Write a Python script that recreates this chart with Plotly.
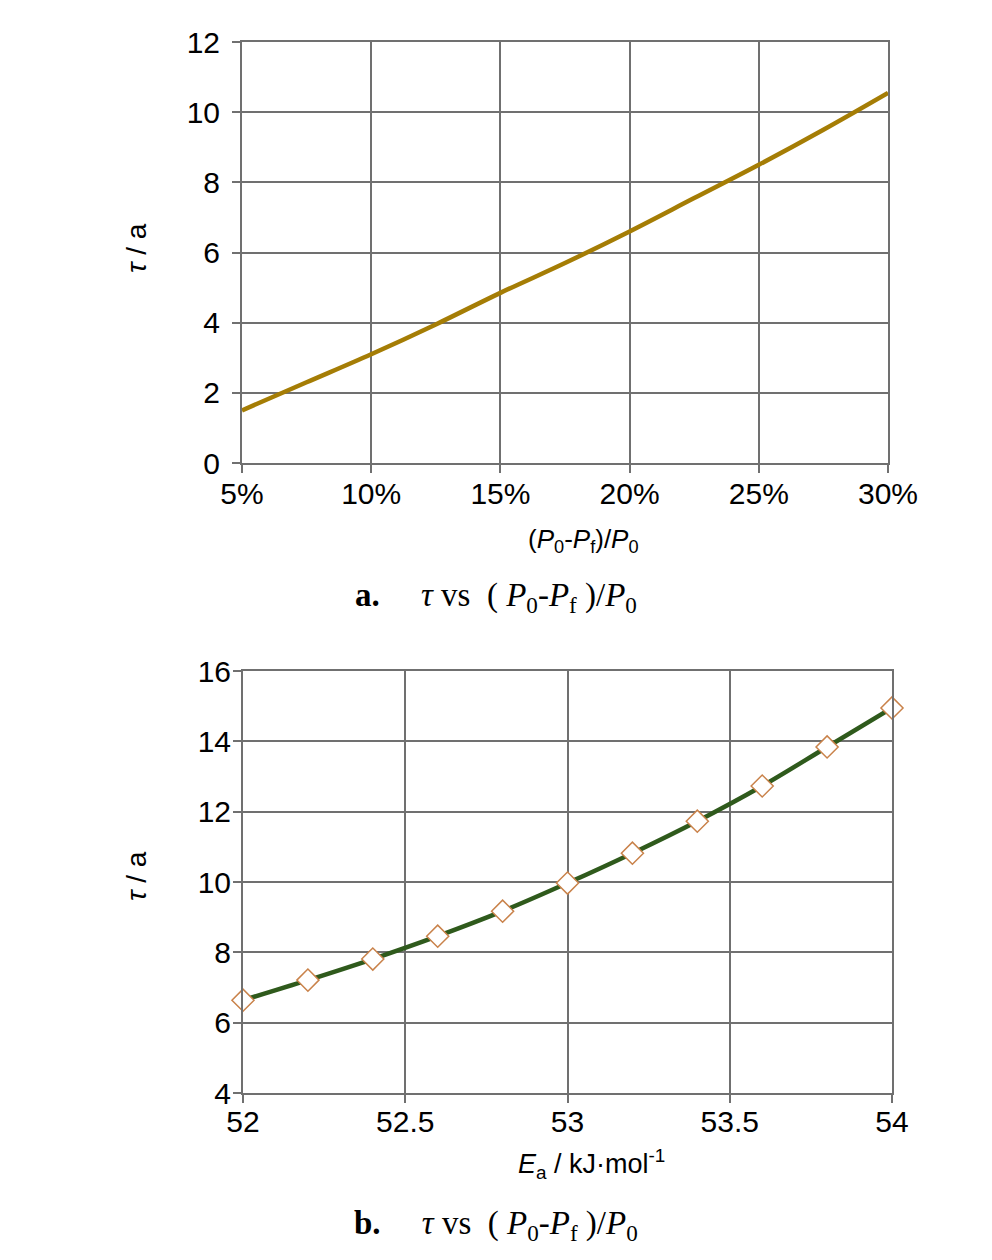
import plotly.graph_objects as go

# ---- data ----
ratio_a = [0.05, 0.075, 0.10, 0.125, 0.15, 0.175, 0.20, 0.225, 0.25, 0.275, 0.30]
tau_a = [1.5, 2.3, 3.1, 3.95, 4.85, 5.7, 6.6, 7.55, 8.5, 9.5, 10.55]

ea_b = [52.0, 52.2, 52.4, 52.6, 52.8, 53.0, 53.2, 53.4, 53.6, 53.8, 54.0]
tau_b = [6.64, 7.21, 7.81, 8.46, 9.17, 9.97, 10.82, 11.73, 12.73, 13.84, 14.95]

xticks_a = [0.05, 0.10, 0.15, 0.20, 0.25, 0.30]
xticklabels_a = ["5%", "10%", "15%", "20%", "25%", "30%"]
xticks_b = [52, 52.5, 53, 53.5, 54]
xticklabels_b = ["52", "52.5", "53", "53.5", "54"]

W, H = 992, 1260
OFF = 8  # page body margin
SANS = "Liberation Sans Narrow, Arial Narrow, Liberation Sans, Arial"
SERIF = "Liberation Serif, Times New Roman, serif"
GRID = "#707070"

fig = go.Figure()
fig.add_trace(go.Scatter(x=ratio_a, y=tau_a, mode="lines",
                         line=dict(color="#a57d05", width=4.5, shape="spline"),
                         xaxis="x", yaxis="y", showlegend=False))
fig.add_trace(go.Scatter(x=ea_b, y=tau_b, mode="lines+markers",
                         line=dict(color="#2f5a1c", width=4.5, shape="spline"),
                         marker=dict(symbol="diamond", size=17, color="white",
                                     line=dict(color="#c9824a", width=1.5)),
                         xaxis="x2", yaxis="y2", showlegend=False, cliponaxis=False))

def py(p):
    return 1 - (p - OFF) / H

def px(p):
    return (p - OFF) / W

axcommon = dict(showgrid=True, gridcolor=GRID, gridwidth=2, showline=True,
                linecolor=GRID, linewidth=2, mirror=True, ticks="outside",
                ticklen=8, tickcolor=GRID, tickwidth=2, zeroline=False,
                automargin=False,
                tickfont=dict(family=SANS, size=30, color="black"))

fig.update_layout(
    width=W, height=H, margin=dict(l=0, r=0, t=0, b=0, autoexpand=False),
    paper_bgcolor="white", plot_bgcolor="white",
    xaxis=dict(domain=[px(242), px(888)], range=[0.05, 0.30], tickvals=xticks_a,
               ticktext=xticklabels_a, anchor="y", ticklabelstandoff=-5, **axcommon),
    yaxis=dict(domain=[py(463), py(42)], range=[0, 12], dtick=2, anchor="x",
               ticklabelstandoff=6, **axcommon),
    xaxis2=dict(domain=[px(243), px(892)], range=[52, 54], tickvals=xticks_b,
                ticktext=xticklabels_b, anchor="y2", ticklabelstandoff=-7, **axcommon),
    yaxis2=dict(domain=[py(1093), py(671)], range=[4, 16], dtick=2, anchor="x2",
                ticklabelstandoff=-4, **axcommon),
)

ann = []
def add(x, y, text, font, angle=0):
    ann.append(dict(x=px(x), y=py(y), xref="paper", yref="paper", showarrow=False,
                    xanchor="center", yanchor="middle", textangle=angle,
                    text=text, font=font))

# axis titles
add(583, 540, "(<i>P</i><sub>0</sub>-<i>P</i><sub>f</sub>)/<i>P</i><sub>0</sub>",
    dict(family=SANS, size=26, color="black"))
add(591, 1164, "<i>E</i><sub>a</sub> / kJ·mol<sup>-1</sup>",
    dict(family=SANS, size=27, color="black"))
for yc in (248, 876):
    add(136, yc, "<i>τ</i> / a", dict(family=SANS, size=28, color="black"), angle=-90)
# captions
for lab, yc in (("a.", 597), ("b.", 1225)):
    add(496, yc, "<b>" + lab + "</b>&nbsp;&nbsp;&nbsp;&nbsp;&nbsp;<i>τ</i> vs&nbsp;&nbsp;(&nbsp;<i>P</i><sub>0</sub>-<i>P</i><sub>f</sub>&nbsp;)/<i>P</i><sub>0</sub>",
        dict(family=SERIF, size=33, color="black"))
fig.update_layout(annotations=ann)

fig.write_html("out.html")
